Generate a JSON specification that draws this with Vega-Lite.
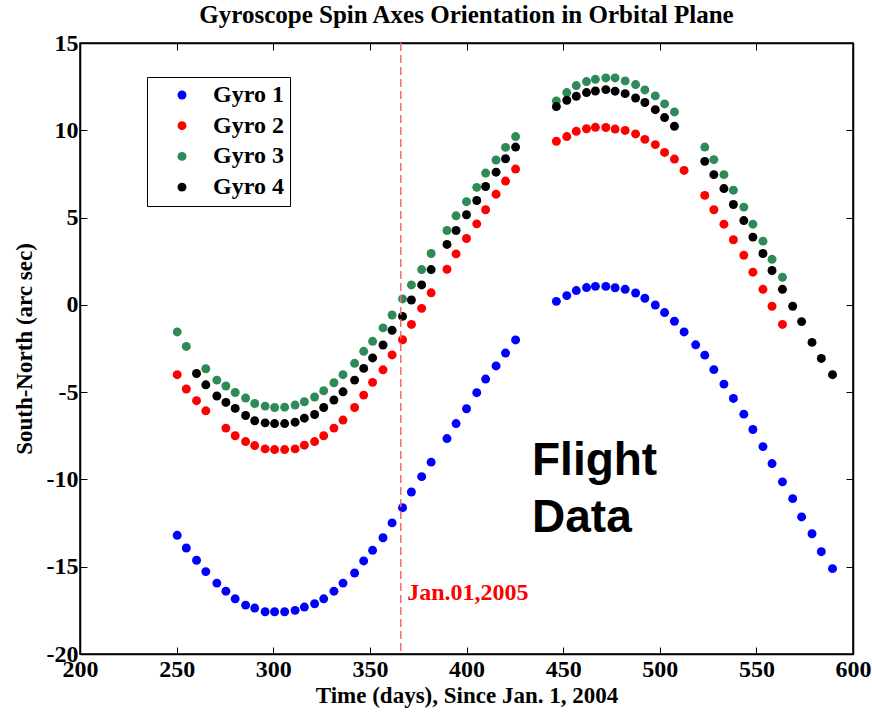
{
  "$schema": "https://vega.github.io/schema/vega-lite/v6.json",
  "autosize": "none",
  "width": 773,
  "height": 611,
  "padding": {"left": 80, "top": 43, "right": 19, "bottom": 58},
  "background": "white",
  "title": {"text": "Gyroscope Spin Axes Orientation in Orbital Plane", "font": "Liberation Serif", "fontSize": 25, "fontWeight": "bold", "color": "black", "anchor": "middle", "baseline": "alphabetic", "offset": -17},
  "config": {
    "view": {"stroke": "black", "strokeWidth": 1.5},
    "axis": {"grid": false, "domainColor": "black", "domainWidth": 1.5, "tickColor": "black", "tickWidth": 1, "tickSize": -7, "labelFont": "Liberation Serif", "labelFontSize": 24, "labelFontWeight": "bold", "labelColor": "black", "titleFont": "Liberation Serif", "titleFontSize": 23, "titleFontWeight": "bold", "titleColor": "black", "labelOverlap": false, "labelFlush": false}
  },
  "resolve": {"axis": {"x": "independent", "y": "independent"}},
  "layer": [
    {
      "data": {"values": [
        {"t":250.3,"v":-13.20,"g":"Gyro 1"},{"t":255.0,"v":-13.93,"g":"Gyro 1"},{"t":260.3,"v":-14.63,"g":"Gyro 1"},{"t":265.1,"v":-15.28,"g":"Gyro 1"},{"t":270.8,"v":-15.94,"g":"Gyro 1"},{"t":275.5,"v":-16.40,"g":"Gyro 1"},{"t":280.3,"v":-16.84,"g":"Gyro 1"},{"t":285.7,"v":-17.20,"g":"Gyro 1"},{"t":290.4,"v":-17.37,"g":"Gyro 1"},{"t":295.8,"v":-17.58,"g":"Gyro 1"},{"t":300.7,"v":-17.58,"g":"Gyro 1"},{"t":305.9,"v":-17.58,"g":"Gyro 1"},{"t":311.3,"v":-17.50,"g":"Gyro 1"},{"t":316.1,"v":-17.31,"g":"Gyro 1"},{"t":321.4,"v":-17.12,"g":"Gyro 1"},{"t":326.1,"v":-16.84,"g":"Gyro 1"},{"t":331.4,"v":-16.40,"g":"Gyro 1"},{"t":336.1,"v":-15.94,"g":"Gyro 1"},{"t":342.1,"v":-15.36,"g":"Gyro 1"},{"t":346.8,"v":-14.67,"g":"Gyro 1"},{"t":351.4,"v":-14.06,"g":"Gyro 1"},{"t":356.8,"v":-13.34,"g":"Gyro 1"},{"t":361.5,"v":-12.49,"g":"Gyro 1"},{"t":366.9,"v":-11.62,"g":"Gyro 1"},{"t":371.5,"v":-10.72,"g":"Gyro 1"},{"t":376.8,"v":-9.84,"g":"Gyro 1"},{"t":381.7,"v":-9.01,"g":"Gyro 1"},{"t":389.9,"v":-7.66,"g":"Gyro 1"},{"t":394.6,"v":-6.80,"g":"Gyro 1"},{"t":400.0,"v":-5.95,"g":"Gyro 1"},{"t":405.3,"v":-5.03,"g":"Gyro 1"},{"t":409.9,"v":-4.25,"g":"Gyro 1"},{"t":415.3,"v":-3.50,"g":"Gyro 1"},{"t":420.2,"v":-2.76,"g":"Gyro 1"},{"t":425.4,"v":-2.01,"g":"Gyro 1"},
        {"t":446.5,"v":0.20,"g":"Gyro 1"},{"t":451.9,"v":0.53,"g":"Gyro 1"},{"t":456.8,"v":0.82,"g":"Gyro 1"},{"t":462.1,"v":0.99,"g":"Gyro 1"},{"t":466.7,"v":1.06,"g":"Gyro 1"},{"t":472.1,"v":1.06,"g":"Gyro 1"},{"t":476.9,"v":0.98,"g":"Gyro 1"},{"t":482.1,"v":0.89,"g":"Gyro 1"},{"t":487.5,"v":0.68,"g":"Gyro 1"},{"t":492.3,"v":0.38,"g":"Gyro 1"},{"t":497.7,"v":-0.01,"g":"Gyro 1"},{"t":502.5,"v":-0.44,"g":"Gyro 1"},{"t":507.6,"v":-0.94,"g":"Gyro 1"},{"t":512.6,"v":-1.55,"g":"Gyro 1"},{"t":518.6,"v":-2.29,"g":"Gyro 1"},{"t":523.3,"v":-2.88,"g":"Gyro 1"},{"t":528.0,"v":-3.71,"g":"Gyro 1"},{"t":533.2,"v":-4.54,"g":"Gyro 1"},{"t":538.1,"v":-5.36,"g":"Gyro 1"},{"t":543.5,"v":-6.26,"g":"Gyro 1"},{"t":548.2,"v":-7.14,"g":"Gyro 1"},{"t":553.4,"v":-8.12,"g":"Gyro 1"},{"t":558.1,"v":-9.09,"g":"Gyro 1"},{"t":563.5,"v":-10.14,"g":"Gyro 1"},{"t":568.8,"v":-11.10,"g":"Gyro 1"},{"t":573.4,"v":-12.15,"g":"Gyro 1"},{"t":578.8,"v":-13.11,"g":"Gyro 1"},{"t":583.6,"v":-14.14,"g":"Gyro 1"},{"t":589.4,"v":-15.11,"g":"Gyro 1"},
        {"t":250.3,"v":-4.00,"g":"Gyro 2"},{"t":255.0,"v":-4.82,"g":"Gyro 2"},{"t":260.3,"v":-5.49,"g":"Gyro 2"},{"t":265.1,"v":-6.07,"g":"Gyro 2"},{"t":275.5,"v":-7.06,"g":"Gyro 2"},{"t":280.3,"v":-7.50,"g":"Gyro 2"},{"t":285.7,"v":-7.83,"g":"Gyro 2"},{"t":290.4,"v":-8.06,"g":"Gyro 2"},{"t":295.8,"v":-8.25,"g":"Gyro 2"},{"t":300.7,"v":-8.29,"g":"Gyro 2"},{"t":305.9,"v":-8.29,"g":"Gyro 2"},{"t":311.3,"v":-8.25,"g":"Gyro 2"},{"t":316.1,"v":-8.04,"g":"Gyro 2"},{"t":321.4,"v":-7.83,"g":"Gyro 2"},{"t":326.1,"v":-7.50,"g":"Gyro 2"},{"t":331.4,"v":-7.06,"g":"Gyro 2"},{"t":336.1,"v":-6.60,"g":"Gyro 2"},{"t":342.1,"v":-5.88,"g":"Gyro 2"},{"t":346.8,"v":-5.17,"g":"Gyro 2"},{"t":351.4,"v":-4.44,"g":"Gyro 2"},{"t":356.8,"v":-3.72,"g":"Gyro 2"},{"t":361.5,"v":-2.87,"g":"Gyro 2"},{"t":366.9,"v":-2.00,"g":"Gyro 2"},{"t":371.5,"v":-1.12,"g":"Gyro 2"},{"t":376.8,"v":-0.20,"g":"Gyro 2"},{"t":381.7,"v":0.69,"g":"Gyro 2"},{"t":389.9,"v":2.04,"g":"Gyro 2"},{"t":394.6,"v":2.92,"g":"Gyro 2"},{"t":400.0,"v":3.80,"g":"Gyro 2"},{"t":405.3,"v":4.64,"g":"Gyro 2"},{"t":409.9,"v":5.45,"g":"Gyro 2"},{"t":415.3,"v":6.34,"g":"Gyro 2"},{"t":420.2,"v":7.09,"g":"Gyro 2"},{"t":425.4,"v":7.78,"g":"Gyro 2"},
        {"t":446.5,"v":9.37,"g":"Gyro 2"},{"t":451.9,"v":9.64,"g":"Gyro 2"},{"t":456.8,"v":9.94,"g":"Gyro 2"},{"t":462.1,"v":10.09,"g":"Gyro 2"},{"t":466.7,"v":10.17,"g":"Gyro 2"},{"t":472.1,"v":10.16,"g":"Gyro 2"},{"t":476.9,"v":10.07,"g":"Gyro 2"},{"t":482.1,"v":9.99,"g":"Gyro 2"},{"t":487.5,"v":9.79,"g":"Gyro 2"},{"t":492.3,"v":9.48,"g":"Gyro 2"},{"t":497.7,"v":9.18,"g":"Gyro 2"},{"t":502.5,"v":8.73,"g":"Gyro 2"},{"t":507.6,"v":8.35,"g":"Gyro 2"},{"t":512.6,"v":7.70,"g":"Gyro 2"},{"t":523.3,"v":6.27,"g":"Gyro 2"},{"t":528.0,"v":5.45,"g":"Gyro 2"},{"t":533.2,"v":4.62,"g":"Gyro 2"},{"t":538.1,"v":3.73,"g":"Gyro 2"},{"t":543.5,"v":2.84,"g":"Gyro 2"},{"t":548.2,"v":1.87,"g":"Gyro 2"},{"t":553.4,"v":0.89,"g":"Gyro 2"},{"t":558.1,"v":-0.08,"g":"Gyro 2"},{"t":563.5,"v":-1.12,"g":"Gyro 2"},
        {"t":250.3,"v":-1.55,"g":"Gyro 3"},{"t":255.0,"v":-2.38,"g":"Gyro 3"},{"t":265.1,"v":-3.66,"g":"Gyro 3"},{"t":270.8,"v":-4.31,"g":"Gyro 3"},{"t":275.5,"v":-4.65,"g":"Gyro 3"},{"t":280.3,"v":-5.02,"g":"Gyro 3"},{"t":285.7,"v":-5.34,"g":"Gyro 3"},{"t":290.4,"v":-5.65,"g":"Gyro 3"},{"t":295.8,"v":-5.80,"g":"Gyro 3"},{"t":300.7,"v":-5.88,"g":"Gyro 3"},{"t":305.9,"v":-5.86,"g":"Gyro 3"},{"t":311.3,"v":-5.74,"g":"Gyro 3"},{"t":316.1,"v":-5.55,"g":"Gyro 3"},{"t":321.4,"v":-5.28,"g":"Gyro 3"},{"t":326.1,"v":-4.92,"g":"Gyro 3"},{"t":331.4,"v":-4.46,"g":"Gyro 3"},{"t":336.1,"v":-4.00,"g":"Gyro 3"},{"t":342.1,"v":-3.35,"g":"Gyro 3"},{"t":346.8,"v":-2.66,"g":"Gyro 3"},{"t":351.4,"v":-2.09,"g":"Gyro 3"},{"t":356.8,"v":-1.32,"g":"Gyro 3"},{"t":361.5,"v":-0.58,"g":"Gyro 3"},{"t":366.9,"v":0.34,"g":"Gyro 3"},{"t":371.5,"v":1.14,"g":"Gyro 3"},{"t":376.8,"v":2.02,"g":"Gyro 3"},{"t":381.7,"v":2.94,"g":"Gyro 3"},{"t":389.9,"v":4.26,"g":"Gyro 3"},{"t":394.6,"v":5.10,"g":"Gyro 3"},{"t":400.0,"v":5.91,"g":"Gyro 3"},{"t":405.3,"v":6.73,"g":"Gyro 3"},{"t":409.9,"v":7.55,"g":"Gyro 3"},{"t":415.3,"v":8.30,"g":"Gyro 3"},{"t":420.2,"v":9.02,"g":"Gyro 3"},{"t":425.4,"v":9.64,"g":"Gyro 3"},
        {"t":446.5,"v":11.68,"g":"Gyro 3"},{"t":451.9,"v":12.16,"g":"Gyro 3"},{"t":456.8,"v":12.56,"g":"Gyro 3"},{"t":462.1,"v":12.79,"g":"Gyro 3"},{"t":466.7,"v":12.92,"g":"Gyro 3"},{"t":472.1,"v":13.00,"g":"Gyro 3"},{"t":476.9,"v":13.00,"g":"Gyro 3"},{"t":482.1,"v":12.83,"g":"Gyro 3"},{"t":487.5,"v":12.62,"g":"Gyro 3"},{"t":492.3,"v":12.31,"g":"Gyro 3"},{"t":497.7,"v":11.97,"g":"Gyro 3"},{"t":502.5,"v":11.51,"g":"Gyro 3"},{"t":507.6,"v":11.05,"g":"Gyro 3"},{"t":523.3,"v":9.04,"g":"Gyro 3"},{"t":528.0,"v":8.32,"g":"Gyro 3"},{"t":533.2,"v":7.46,"g":"Gyro 3"},{"t":538.1,"v":6.57,"g":"Gyro 3"},{"t":543.5,"v":5.60,"g":"Gyro 3"},{"t":548.2,"v":4.62,"g":"Gyro 3"},{"t":553.4,"v":3.65,"g":"Gyro 3"},{"t":558.1,"v":2.61,"g":"Gyro 3"},{"t":563.5,"v":1.58,"g":"Gyro 3"},
        {"t":260.3,"v":-3.93,"g":"Gyro 4"},{"t":265.1,"v":-4.58,"g":"Gyro 4"},{"t":270.8,"v":-5.22,"g":"Gyro 4"},{"t":275.5,"v":-5.59,"g":"Gyro 4"},{"t":280.3,"v":-5.93,"g":"Gyro 4"},{"t":285.7,"v":-6.34,"g":"Gyro 4"},{"t":290.4,"v":-6.64,"g":"Gyro 4"},{"t":295.8,"v":-6.76,"g":"Gyro 4"},{"t":300.7,"v":-6.80,"g":"Gyro 4"},{"t":305.9,"v":-6.80,"g":"Gyro 4"},{"t":311.3,"v":-6.72,"g":"Gyro 4"},{"t":316.1,"v":-6.49,"g":"Gyro 4"},{"t":321.4,"v":-6.28,"g":"Gyro 4"},{"t":326.1,"v":-5.88,"g":"Gyro 4"},{"t":331.4,"v":-5.45,"g":"Gyro 4"},{"t":336.1,"v":-4.98,"g":"Gyro 4"},{"t":342.1,"v":-4.31,"g":"Gyro 4"},{"t":346.8,"v":-3.64,"g":"Gyro 4"},{"t":351.4,"v":-3.04,"g":"Gyro 4"},{"t":356.8,"v":-2.30,"g":"Gyro 4"},{"t":361.5,"v":-1.46,"g":"Gyro 4"},{"t":366.9,"v":-0.66,"g":"Gyro 4"},{"t":371.5,"v":0.28,"g":"Gyro 4"},{"t":376.8,"v":1.14,"g":"Gyro 4"},{"t":381.7,"v":2.02,"g":"Gyro 4"},{"t":389.9,"v":3.46,"g":"Gyro 4"},{"t":394.6,"v":4.26,"g":"Gyro 4"},{"t":400.0,"v":5.16,"g":"Gyro 4"},{"t":405.3,"v":5.98,"g":"Gyro 4"},{"t":409.9,"v":6.78,"g":"Gyro 4"},{"t":415.3,"v":7.60,"g":"Gyro 4"},{"t":420.2,"v":8.37,"g":"Gyro 4"},{"t":425.4,"v":9.04,"g":"Gyro 4"},
        {"t":446.5,"v":11.36,"g":"Gyro 4"},{"t":451.9,"v":11.72,"g":"Gyro 4"},{"t":456.8,"v":11.95,"g":"Gyro 4"},{"t":462.1,"v":12.16,"g":"Gyro 4"},{"t":466.7,"v":12.25,"g":"Gyro 4"},{"t":472.1,"v":12.33,"g":"Gyro 4"},{"t":476.9,"v":12.24,"g":"Gyro 4"},{"t":482.1,"v":12.10,"g":"Gyro 4"},{"t":487.5,"v":11.85,"g":"Gyro 4"},{"t":492.3,"v":11.59,"g":"Gyro 4"},{"t":497.7,"v":11.18,"g":"Gyro 4"},{"t":502.5,"v":10.73,"g":"Gyro 4"},{"t":507.6,"v":10.23,"g":"Gyro 4"},{"t":523.3,"v":8.22,"g":"Gyro 4"},{"t":528.0,"v":7.46,"g":"Gyro 4"},{"t":533.2,"v":6.66,"g":"Gyro 4"},{"t":538.1,"v":5.75,"g":"Gyro 4"},{"t":543.5,"v":4.83,"g":"Gyro 4"},{"t":548.2,"v":3.88,"g":"Gyro 4"},{"t":553.4,"v":2.94,"g":"Gyro 4"},{"t":558.1,"v":1.97,"g":"Gyro 4"},{"t":563.5,"v":0.89,"g":"Gyro 4"},{"t":568.8,"v":-0.08,"g":"Gyro 4"},{"t":573.4,"v":-0.96,"g":"Gyro 4"},{"t":578.8,"v":-2.15,"g":"Gyro 4"},{"t":583.6,"v":-3.07,"g":"Gyro 4"},{"t":589.4,"v":-4.00,"g":"Gyro 4"}
      ]},
      "mark": {"type": "point", "filled": true, "shape": "circle", "size": 80, "opacity": 1},
      "encoding": {
        "x": {"field": "t", "type": "quantitative", "scale": {"domain": [200, 600], "nice": false, "zero": false},
              "axis": {"orient": "bottom", "values": [200, 250, 300, 350, 400, 450, 500, 550, 600], "labelPadding": 10, "title": "Time (days), Since Jan. 1, 2004", "titlePadding": 3}},
        "y": {"field": "v", "type": "quantitative", "scale": {"domain": [-20, 15], "nice": false, "zero": false},
              "axis": {"orient": "left", "values": [-20, -15, -10, -5, 0, 5, 10, 15], "labelPadding": 9, "labelExpr": "'' + datum.value", "title": "South-North (arc sec)", "titlePadding": 10}},
        "color": {"field": "g", "type": "nominal",
                  "scale": {"domain": ["Gyro 1", "Gyro 2", "Gyro 3", "Gyro 4"], "range": ["#0000ff", "#ff0000", "#2e8b57", "#000000"]},
                  "legend": {"orient": "none", "legendX": 67, "legendY": 34, "title": null, "strokeColor": "black", "fillColor": "white", "padding": 6, "labelFont": "Liberation Serif", "labelFontSize": 24, "labelFontWeight": "bold", "labelColor": "black", "symbolType": "circle", "symbolSize": 80, "symbolStrokeWidth": 0, "symbolOffset": 17, "labelOffset": 19, "rowPadding": 6.7,
                             "encode": {"legend": {"update": {"strokeWidth": {"value": 1.5}}}}}}
      }
    },
    {
      "data": {"values": [{"t": 366}]},
      "mark": {"type": "rule", "color": "#f26d6d", "strokeWidth": 1.5, "strokeDash": [8, 4]},
      "encoding": {
        "x": {"field": "t", "type": "quantitative", "scale": {"domain": [200, 600], "nice": false, "zero": false},
              "axis": {"orient": "top", "values": [200, 250, 300, 350, 400, 450, 500, 550, 600], "labels": false, "title": null}}
      }
    },
    {
      "data": {"values": [{"t": 369.3, "v": -16.9, "label": "Jan.01,2005"}]},
      "mark": {"type": "text", "font": "Liberation Serif", "fontSize": 24, "fontWeight": "bold", "color": "#ff0000", "align": "left", "baseline": "alphabetic"},
      "encoding": {
        "x": {"field": "t", "type": "quantitative", "scale": {"domain": [200, 600], "nice": false, "zero": false}, "axis": null},
        "y": {"field": "v", "type": "quantitative", "scale": {"domain": [-20, 15], "nice": false, "zero": false},
              "axis": {"orient": "right", "values": [-20, -15, -10, -5, 0, 5, 10, 15], "labels": false, "title": null}},
        "text": {"field": "label"}
      }
    },
    {
      "data": {"values": [{"t": 433.9, "v": -9.76, "label": "Flight"}, {"t": 433.9, "v": -13.0, "label": "Data"}]},
      "mark": {"type": "text", "font": "Liberation Sans", "fontSize": 46, "fontWeight": "bold", "color": "black", "align": "left", "baseline": "alphabetic"},
      "encoding": {
        "x": {"field": "t", "type": "quantitative", "scale": {"domain": [200, 600], "nice": false, "zero": false}, "axis": null},
        "y": {"field": "v", "type": "quantitative", "scale": {"domain": [-20, 15], "nice": false, "zero": false}, "axis": null},
        "text": {"field": "label"}
      }
    }
  ]
}
